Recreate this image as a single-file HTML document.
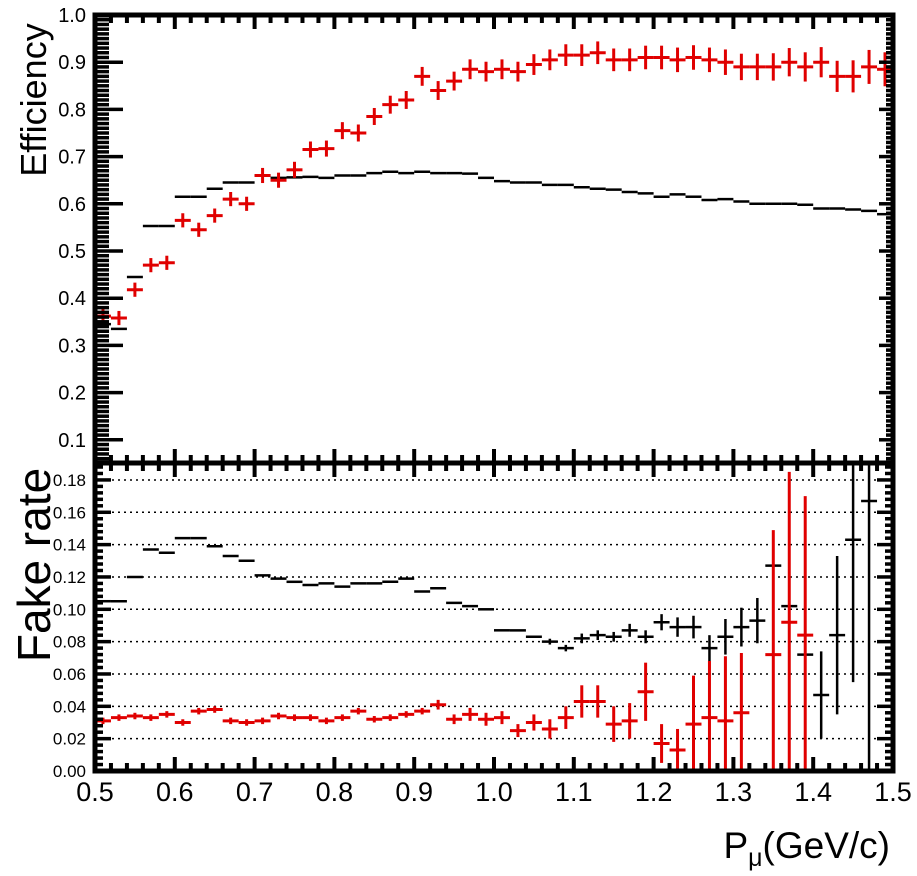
<!DOCTYPE html>
<html><head><meta charset="utf-8"><style>
body{margin:0;background:#fff}
svg{display:block;font-family:"Liberation Sans",sans-serif}
</style></head><body>
<svg id="c" width="917" height="876" viewBox="0 0 917 876"></svg>
<script>
const centers=[];for(let i=0;i<50;i++)centers.push(+(0.51+i*0.02).toFixed(2));
const effBlack=[0.345,0.335,0.445,0.553,0.553,0.615,0.615,0.632,0.645,0.645,0.66,0.655,0.656,0.657,0.655,0.66,0.66,0.665,0.668,0.665,0.668,0.665,0.665,0.664,0.655,0.648,0.645,0.645,0.64,0.64,0.635,0.632,0.63,0.625,0.622,0.615,0.62,0.615,0.608,0.61,0.605,0.6,0.6,0.6,0.598,0.59,0.59,0.588,0.585,0.578];
const effRed=[0.362,0.358,0.418,0.47,0.475,0.565,0.545,0.575,0.61,0.6,0.66,0.65,0.672,0.715,0.717,0.755,0.75,0.785,0.81,0.82,0.87,0.84,0.86,0.885,0.88,0.885,0.88,0.895,0.905,0.915,0.915,0.92,0.905,0.905,0.91,0.91,0.905,0.91,0.905,0.9,0.89,0.89,0.89,0.9,0.89,0.9,0.87,0.87,0.89,0.885];
const effRedErr=[0.015,0.015,0.015,0.015,0.015,0.015,0.015,0.015,0.015,0.015,0.016,0.016,0.017,0.017,0.017,0.018,0.018,0.018,0.019,0.019,0.02,0.02,0.02,0.021,0.021,0.021,0.021,0.022,0.022,0.023,0.023,0.024,0.024,0.024,0.025,0.025,0.026,0.026,0.026,0.027,0.028,0.028,0.029,0.03,0.031,0.032,0.033,0.034,0.036,0.036];
const fakeBlack=[0.105,0.105,0.12,0.137,0.135,0.144,0.144,0.139,0.133,0.13,0.121,0.119,0.117,0.115,0.116,0.114,0.116,0.116,0.117,0.119,0.111,0.113,0.104,0.102,0.1,0.087,0.087,0.083,0.08,0.076,0.082,0.084,0.083,0.087,0.083,0.092,0.089,0.089,0.076,0.083,0.089,0.093,0.127,0.102,0.072,0.047,0.084,0.143,0.167,null];
const fakeBlackErr=[0.0008,0.0008,0.0008,0.0008,0.0008,0.0008,0.0008,0.0008,0.0008,0.0008,0.0008,0.0008,0.0008,0.0008,0.0008,0.0008,0.0008,0.0008,0.0008,0.001,0.001,0.001,0.001,0.0012,0.0012,0.0013,0.0013,0.0015,0.0018,0.002,0.003,0.003,0.003,0.004,0.004,0.005,0.006,0.007,0.008,0.011,0.012,0.014,0,0,0,0.027,0.049,0.088,0.2,0];
const fakeRed=[0.031,0.033,0.034,0.033,0.035,0.03,0.037,0.038,0.031,0.03,0.031,0.034,0.033,0.033,0.031,0.033,0.037,0.032,0.033,0.035,0.037,0.041,0.032,0.035,0.032,0.033,0.025,0.03,0.026,0.033,0.043,0.043,0.029,0.031,0.049,0.017,0.013,0.029,0.033,0.031,0.036,null,0.072,0.092,0.084,null,null,null,null,null];
const fakeRedErr=[0.002,0.002,0.002,0.002,0.002,0.002,0.002,0.002,0.002,0.002,0.002,0.002,0.002,0.002,0.002,0.002,0.002,0.002,0.002,0.002,0.002,0.003,0.003,0.004,0.004,0.004,0.004,0.005,0.006,0.007,0.01,0.01,0.011,0.011,0.018,0.012,0.013,0.03,0.035,0.04,0.037,0,0.077,0.093,0.086,0,0,0,0,0];
const xTicks=[0.5,0.6,0.7,0.8,0.9,1.0,1.1,1.2,1.3,1.4,1.5];
const effTicks=[0.1,0.2,0.3,0.4,0.5,0.6,0.7,0.8,0.9,1.0];
const fakeTicks=[0.00,0.02,0.04,0.06,0.08,0.10,0.12,0.14,0.16,0.18];

const L=95,R=893,T=15,M=463,B=771;
const X=v=>L+(v-0.5)*(R-L);
const YT=v=>T+(1-v)*472;
const YB=v=>B-v*1617;
const S=document.getElementById('c'),NS='http://www.w3.org/2000/svg';
function mk(t,a,p){const e=document.createElementNS(NS,t);for(const k in a)e.setAttribute(k,a[k]);(p||S).appendChild(e);return e;}
function clipT(v){return Math.max(T,Math.min(M,v));}
function clipB(v){return Math.max(M,Math.min(B,v));}
const hb=(R-L)/100;

fakeTicks.forEach(v=>{if(v>0){const g=mk('line',{x1:L+5,x2:R-5,y1:YB(v),y2:YB(v),stroke:'#000','stroke-width':1.5,'stroke-dasharray':'2 4'});

}});

centers.forEach((c,i)=>{const v=effBlack[i];const l=mk('line',{x1:X(c)-hb,x2:X(c)+hb,y1:YT(v),y2:YT(v),stroke:'#000','stroke-width':2.5});

});
centers.forEach((c,i)=>{const v=effRed[i],e=effRedErr[i];const g=mk('g',{stroke:'#e00000','stroke-width':3});


mk('line',{x1:X(c)-hb,x2:X(c)+hb,y1:YT(v),y2:YT(v)},g);
mk('line',{x1:X(c),x2:X(c),y1:clipT(YT(v+e)),y2:clipT(YT(v-e))},g);});
centers.forEach((c,i)=>{const v=fakeBlack[i];if(v==null)return;const e=fakeBlackErr[i];const g=mk('g',{stroke:'#000','stroke-width':2.5});


mk('line',{x1:X(c)-hb,x2:X(c)+hb,y1:YB(v),y2:YB(v)},g);
if(e>0.0015)mk('line',{x1:X(c),x2:X(c),y1:clipB(YB(v+e)),y2:clipB(YB(v-e))},g);});
centers.forEach((c,i)=>{const v=fakeRed[i];if(v==null)return;const e=fakeRedErr[i];const g=mk('g',{stroke:'#e00000','stroke-width':3});


mk('line',{x1:X(c)-hb,x2:X(c)+hb,y1:YB(v),y2:YB(v)},g);
mk('line',{x1:X(c),x2:X(c),y1:clipB(YB(v+e)),y2:clipB(YB(v-e))},g);});

const f1=mk('rect',{x:L,y:T,width:R-L,height:M-T,fill:'none',stroke:'#000','stroke-width':5});


const f2=mk('rect',{x:L,y:M,width:R-L,height:B-M,fill:'none',stroke:'#000','stroke-width':5});



for(let k=0;k<=50;k++){const v=0.5+k*0.02,x=X(v),maj=k%5==0,len=maj?14:8;
[[T,1],[M,-1],[M,1],[B,-1]].forEach(([y,d])=>{mk('line',{x1:x,x2:x,y1:y,y2:y+d*len,stroke:'#000','stroke-width':4});});}
for(let k=1;k<=95;k++){const v=1-k*0.01;if(v<0.05)break;const y=YT(v),maj=Math.abs(v*10-Math.round(v*10))<1e-6,len=maj?28:14;
mk('line',{x1:L,x2:L+len,y1:y,y2:y,stroke:'#000','stroke-width':3.5});
mk('line',{x1:R,x2:R-len/2,y1:y,y2:y,stroke:'#000','stroke-width':3.5});}
for(let k=0;k<=47;k++){const v=k*0.004,y=YB(v);if(y<M)break;const maj=k%5==0,len=maj?16:8;
mk('line',{x1:L,x2:L+len,y1:y,y2:y,stroke:'#000','stroke-width':3.5});
mk('line',{x1:R,x2:R-len,y1:y,y2:y,stroke:'#000','stroke-width':3.5});}

effTicks.forEach(v=>{const t=mk('text',{x:86,y:YT(v)+7,'text-anchor':'end','font-size':20});t.textContent=v.toFixed(1);

});
fakeTicks.forEach(v=>{const t=mk('text',{x:86,y:YB(v)+6,'text-anchor':'end','font-size':17});t.textContent=v.toFixed(2);

});
xTicks.forEach(v=>{const t=mk('text',{x:X(v),y:801,'text-anchor':'middle','font-size':27});t.textContent=v.toFixed(1);

});
const ey=mk('text',{x:0,y:0,'text-anchor':'middle','font-size':36,transform:'translate(46,100) rotate(-90)'});ey.textContent='Efficiency';


const fy=mk('text',{x:0,y:0,'text-anchor':'middle','font-size':46,transform:'translate(50,565) rotate(-90)'});fy.textContent='Fake rate';


const xt=mk('text',{x:890,y:858,'text-anchor':'end','font-size':37});


xt.innerHTML='P<tspan font-size="25" dy="8">μ</tspan><tspan dy="-8">(GeV/c)</tspan>';
</script>
</body></html>
